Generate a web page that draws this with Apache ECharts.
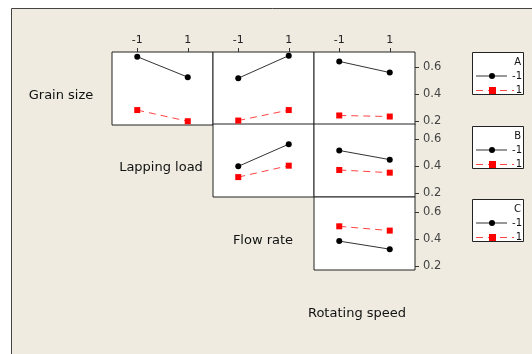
<!DOCTYPE html>
<html>
<head>
<meta charset="utf-8">
<script src="https://cdn.jsdelivr.net/npm/echarts@6/dist/echarts.min.js"></script>
<style>
  html, body { margin: 0; padding: 0; background: #fff; }
  #chart { width: 532px; height: 354px; }
</style>
</head>
<body>
<div id="chart"></div>
<script>
// factor names along the diagonal and legend letters
const factorNames = ['Grain size', 'Lapping load', 'Flow rate', 'Rotating speed']
const legendLetters = ['A', 'B', 'C']
const levels = [-1, 1]
const levelLabels = ['-1', '1']
const yTickValues = [0.2, 0.4, 0.6]

// mean response per panel: [row][col] -> values at levels -1 / 1
// black = row factor at -1, red = row factor at 1
const lowA = [[0.68, 0.528], [0.52, 0.688], [0.645, 0.562]]
const highA = [[0.283, 0.2], [0.205, 0.283], [0.243, 0.235]]
const lowB = [[0.4, 0.565], [0.518, 0.45]]
const highB = [[0.32, 0.405], [0.373, 0.353]]
const lowC = [[0.387, 0.327]]
const highC = [[0.497, 0.465]]

const lowSets = [lowA, lowB, lowC]
const highSets = [highA, highB, highC]

const colLeft = [112, 213, 314]
const rowTop = [52, 124, 197]
const panelW = 101
const panelH = 73
const yMin = 0.172
const yMax = 0.715

const font = 'DejaVu Sans'
const grid = []
const xAxis = []
const yAxis = []
const series = []

for (let r = 0; r < 3; r++) {
  for (let c = r; c < 3; c++) {
    const idx = grid.length
    grid.push({
      left: colLeft[c], top: rowTop[r], width: panelW, height: panelH,
      show: true, backgroundColor: '#fff', borderColor: '#222', borderWidth: 1
    })
    const topRow = r === 0
    xAxis.push({
      type: 'value', gridIndex: idx, min: -2, max: 2, position: 'top',
      axisLine: { show: false, onZero: false }, splitLine: { show: false },
      axisTick: { show: topRow, customValues: levels, length: 4, lineStyle: { color: '#333' } },
      axisLabel: {
        show: topRow, customValues: levels, color: '#222', fontFamily: font, fontSize: 11, margin: 6,
        formatter: (v) => levelLabels[levels.indexOf(v)]
      }
    })
    const rightCol = c === 2
    yAxis.push({
      type: 'value', gridIndex: idx, min: yMin, max: yMax, position: 'right',
      axisLine: { show: false, onZero: false }, splitLine: { show: false },
      axisTick: { show: rightCol, customValues: yTickValues, length: 4, lineStyle: { color: '#333' } },
      axisLabel: {
        show: rightCol, customValues: yTickValues, color: '#444', fontFamily: font, fontSize: 11.5, margin: 8,
        formatter: (v) => v.toFixed(1)
      }
    })
    const k = c - r
    series.push({
      type: 'line', xAxisIndex: idx, yAxisIndex: idx,
      data: levels.map((x, i) => [x, lowSets[r][k][i]]),
      symbol: 'circle', symbolSize: 6,
      itemStyle: { color: '#000' },
      lineStyle: { color: '#333', width: 1 },
      silent: true, animation: false
    })
    series.push({
      type: 'line', xAxisIndex: idx, yAxisIndex: idx,
      data: levels.map((x, i) => [x, highSets[r][k][i]]),
      symbol: 'rect', symbolSize: 6,
      itemStyle: { color: '#f00' },
      lineStyle: { color: '#f44', width: 1, type: [7, 5] },
      silent: true, animation: false
    })
  }
}

const labelStyle = { fontFamily: font, fontSize: 13, fill: '#111', textAlign: 'center', textVerticalAlign: 'middle' }
const graphic = [
  {
    type: 'rect', silent: true, z: -10,
    shape: { x: 11.5, y: 8.5, width: 540, height: 360 },
    style: { fill: '#efebe1', stroke: '#444', lineWidth: 1 }
  },
  { type: 'text', style: { ...labelStyle, text: factorNames[0], x: 61, y: 96 } },
  { type: 'text', style: { ...labelStyle, text: factorNames[1], x: 161, y: 168 } },
  { type: 'text', style: { ...labelStyle, text: factorNames[2], x: 263, y: 241 } },
  { type: 'text', style: { ...labelStyle, text: factorNames[3], x: 357, y: 314 } }
]

const legendTops = [52, 126, 199]
legendLetters.forEach((letter, i) => {
  const t = legendTops[i]
  const small = { fontFamily: font, fontSize: 10, fill: '#111', textVerticalAlign: 'middle' }
  graphic.push({
    type: 'group', x: 472, y: t,
    children: [
      { type: 'rect', shape: { x: 0.5, y: 0.5, width: 51, height: 42 }, style: { fill: '#fff', stroke: '#222', lineWidth: 1 } },
      { type: 'text', style: { ...small, text: letter, x: 49, y: 10, textAlign: 'right' } },
      { type: 'line', shape: { x1: 4, y1: 24, x2: 35, y2: 24 }, style: { stroke: '#333', lineWidth: 1 } },
      { type: 'circle', shape: { cx: 20, cy: 24, r: 3 }, style: { fill: '#000' } },
      { type: 'text', style: { ...small, text: levelLabels[0], x: 50, y: 24, textAlign: 'right' } },
      { type: 'line', shape: { x1: 4, y1: 38.5, x2: 42, y2: 38.5 }, style: { stroke: '#f44', lineWidth: 1, lineDash: [7, 5] } },
      { type: 'rect', shape: { x: 17, y: 35, width: 7, height: 7 }, style: { fill: '#f00' } },
      { type: 'text', style: { ...small, text: levelLabels[1], x: 50, y: 38, textAlign: 'right' } }
    ]
  })
})

const chart = echarts.init(document.getElementById('chart'))
chart.setOption({
  backgroundColor: '#fff',
  animation: false,
  grid, xAxis, yAxis, series, graphic
})
</script>
</body>
</html>
